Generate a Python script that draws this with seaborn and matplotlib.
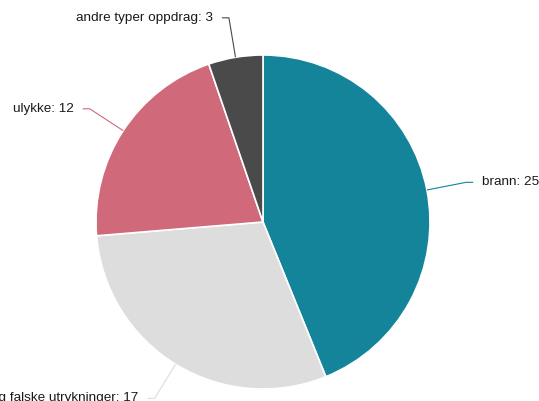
import numpy as np
import matplotlib
matplotlib.use("Agg")
import matplotlib.pyplot as plt
import seaborn as sns

categories = ["brann", "unødige og falske utrykninger", "ulykke", "andre typer oppdrag"]
values = [25, 17, 12, 3]
colors = ["#13849a", "#dddddd", "#d0697a", "#4a4a4a"]

sns.set_theme(style="white")
plt.rcParams["font.family"] = ["Liberation Sans", "DejaVu Sans"]

W, H = 539, 401
fig = plt.figure(figsize=(W / 100, H / 100), dpi=100)
ax = fig.add_axes([0, 0, 1, 1])

cx, cy, r = 263, H - 222, 167
pal = sns.color_palette(colors)
wedges, _ = ax.pie(values, colors=pal, startangle=90, counterclock=False,
                   center=(cx, cy), radius=r,
                   wedgeprops=dict(edgecolor="white", linewidth=1.2))

for w, lab, val, col in zip(wedges, categories, values, pal):
    th = np.deg2rad((w.theta1 + w.theta2) / 2)
    ex, ey = cx + r * np.cos(th), cy + r * np.sin(th)
    bx, by = cx + (r + 40) * np.cos(th), cy + (r + 40) * np.sin(th)
    side = 1 if np.cos(th) >= 0 else -1
    hx = bx + side * 7
    ax.plot([ex, bx, hx], [ey, by, by], color=col, lw=0.8, solid_capstyle="butt")
    ax.text(bx + side * 16, by, f"{lab}: {val}", ha="left" if side > 0 else "right",
            va="center", fontsize=9.7, color="#1a1a1a")

ax.set_xlim(0, W)
ax.set_ylim(0, H)
ax.set_aspect("equal")
ax.axis("off")
fig.savefig("out.png", dpi=100, facecolor="white")
